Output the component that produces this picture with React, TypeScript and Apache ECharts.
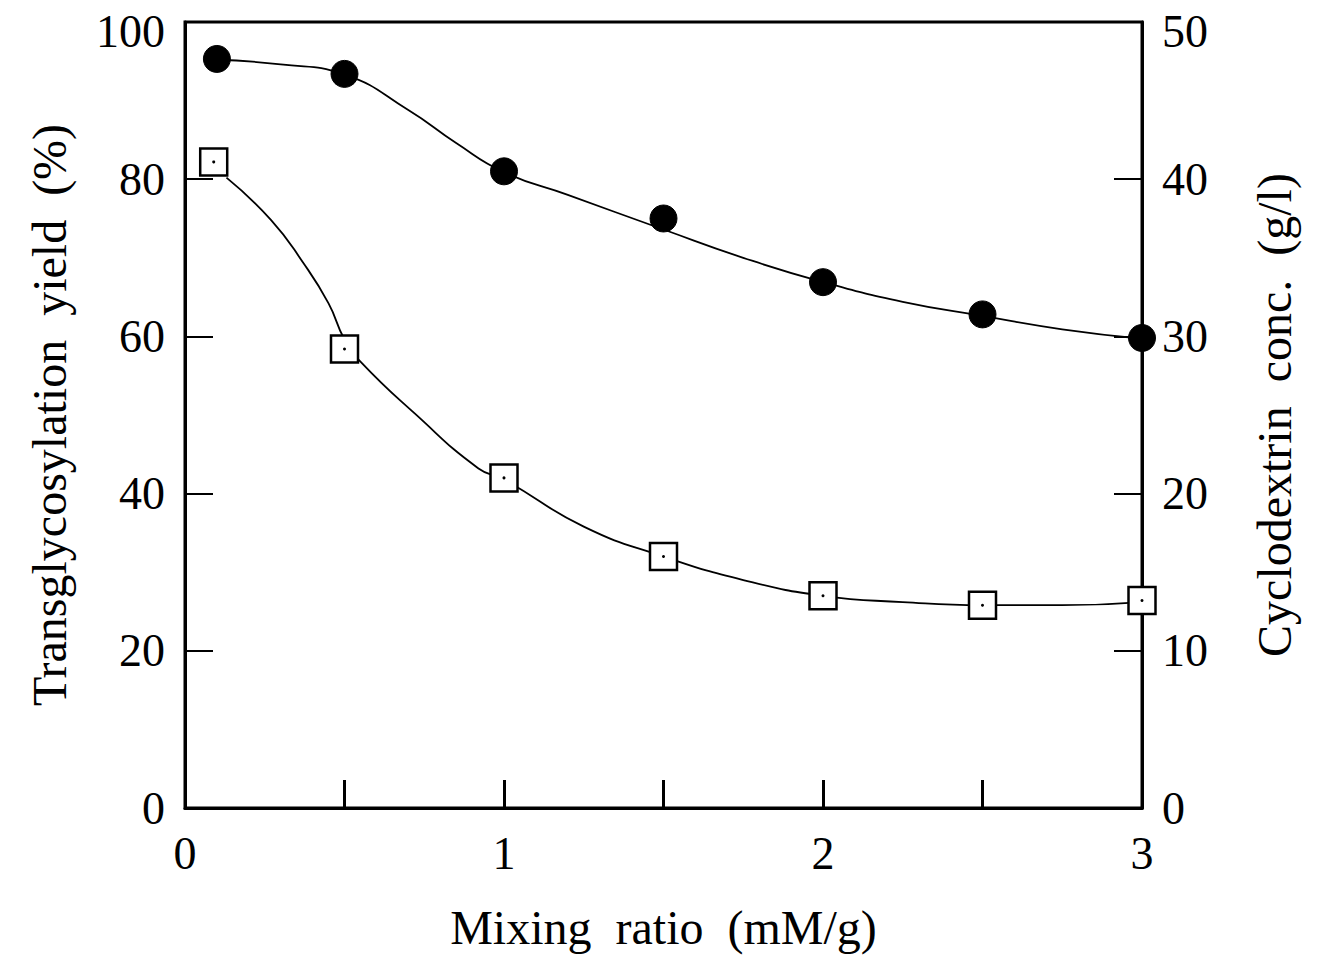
import React, { useEffect, useRef } from "react";
import * as echarts from "echarts";

// Measured points
const ratioYield = [0.1, 0.5, 1, 1.5, 2, 2.5, 3];
const yieldPct = [95.3, 93.4, 81.0, 75.0, 66.9, 62.8, 59.8];
const ratioConc = [0.09, 0.5, 1, 1.5, 2, 2.5, 3];
const concGL = [41.1, 29.2, 21.0, 16.0, 13.5, 12.9, 13.2];

// Fitted curves as drawn in the figure
const yieldCurveX = [0.1, 0.3, 0.5, 0.7, 0.85, 1.0, 1.2, 1.5, 1.75, 2.0, 2.25, 2.5, 2.75, 3.0];
const yieldCurveY = [95.2, 94.6, 93.3, 88.8, 84.6, 80.9, 78.0, 73.6, 70.0, 66.9, 64.4, 62.6, 60.9, 59.7];
const concCurveX = [0.13, 0.27, 0.37, 0.45, 0.5, 0.55, 0.72, 0.92, 1.0, 1.25, 1.5, 1.75, 2.0, 2.25, 2.5, 2.75, 3.0];
const concCurveY = [40.1, 37.4, 34.7, 32.1, 29.8, 28.4, 25.1, 21.6, 20.9, 17.9, 16.0, 14.5, 13.5, 13.1, 12.9, 12.9, 13.1];

const FONT = "Liberation Serif";

export default function App() {
  const ref = useRef<HTMLDivElement>(null);
  useEffect(() => {
    if (!ref.current) return;
    const chart = echarts.init(ref.current, null, { renderer: "svg" });
    const yieldData = ratioYield.map((x, i) => [x, yieldPct[i]]);
    const concData = ratioConc.map((x, i) => [x, concGL[i]]);
    const yieldCurve = yieldCurveX.map((x, i) => [x, yieldCurveY[i]]);
    const concCurve = concCurveX.map((x, i) => [x, concCurveY[i]]);
    const axisLabel = { color: "#000", fontFamily: FONT, fontSize: 46 };
    const nameStyle = { color: "#000", fontFamily: FONT, fontSize: 48 };
    const topRich = { top: { color: "#000", fontFamily: FONT, fontSize: 46, padding: [18, 0, 0, 0] } };
    chart.setOption({
      animation: false,
      backgroundColor: "#fff",
      grid: {
        left: 185,
        right: 1326 - 1142,
        top: 22,
        bottom: 956 - 808,
        show: true,
        borderColor: "#000",
        borderWidth: 3,
        backgroundColor: "transparent",
      },
      xAxis: {
        type: "value",
        min: 0,
        max: 3,
        interval: 0.5,
        name: "Mixing  ratio  (mM/g)",
        nameLocation: "middle",
        nameGap: 95,
        nameTextStyle: nameStyle,
        axisLine: { show: true, lineStyle: { color: "#000", width: 3 } },
        axisTick: { show: true, inside: true, length: 28, lineStyle: { color: "#000", width: 3 } },
        axisLabel: {
          ...axisLabel,
          margin: 22,
          formatter: (v: number) => (Number.isInteger(v) ? String(v) : ""),
        },
        splitLine: { show: false },
      },
      yAxis: [
        {
          type: "value",
          min: 0,
          max: 100,
          interval: 20,
          position: "left",
          name: "Transglycosylation  yield  (%)",
          nameLocation: "middle",
          nameGap: 112,
          nameRotate: 90,
          nameTextStyle: nameStyle,
          axisLine: { show: true, lineStyle: { color: "#000", width: 3 } },
          axisTick: { show: true, inside: true, length: 28, lineStyle: { color: "#000", width: 2 } },
          axisLabel: {
            ...axisLabel,
            margin: 20,
            formatter: (v: number) => (v === 100 ? "{top|100}" : String(v)),
            rich: topRich,
          },
          splitLine: { show: false },
        },
        {
          type: "value",
          min: 0,
          max: 50,
          interval: 10,
          position: "right",
          name: "Cyclodextrin  conc.  (g/l)",
          nameLocation: "middle",
          nameGap: 108,
          nameRotate: 90,
          nameTextStyle: nameStyle,
          axisLine: { show: true, lineStyle: { color: "#000", width: 3 } },
          axisTick: { show: true, inside: true, length: 28, lineStyle: { color: "#000", width: 2 } },
          axisLabel: {
            ...axisLabel,
            margin: 20,
            formatter: (v: number) => (v === 50 ? "{top|50}" : String(v)),
            rich: topRich,
          },
          splitLine: { show: false },
        },
      ],
      series: [
        {
          type: "line",
          yAxisIndex: 0,
          data: yieldCurve,
          smooth: 0.5,
          showSymbol: false,
          symbol: "none",
          lineStyle: { color: "#000", width: 1.8 },
          silent: true,
          z: 2,
        },
        {
          type: "line",
          yAxisIndex: 1,
          data: concCurve,
          smooth: 0.5,
          showSymbol: false,
          symbol: "none",
          lineStyle: { color: "#000", width: 1.8 },
          silent: true,
          z: 2,
        },
        {
          type: "scatter",
          yAxisIndex: 0,
          data: yieldData,
          symbol: "circle",
          symbolSize: 27,
          itemStyle: { color: "#000", borderColor: "#000", opacity: 1 },
          z: 3,
        },
        {
          type: "scatter",
          yAxisIndex: 1,
          data: concData,
          symbol: "rect",
          symbolSize: 27,
          itemStyle: { color: "#fff", borderColor: "#000", borderWidth: 2.5, opacity: 1 },
          z: 3,
        },
        {
          type: "scatter",
          yAxisIndex: 1,
          data: concData,
          symbol: "circle",
          symbolSize: 3,
          itemStyle: { color: "#000", opacity: 1 },
          silent: true,
          z: 4,
        },
      ],
    });
    return () => chart.dispose();
  }, []);
  return <div ref={ref} style={{ width: 1326, height: 956, position: "absolute", left: 0, top: 0 }} />;
}
